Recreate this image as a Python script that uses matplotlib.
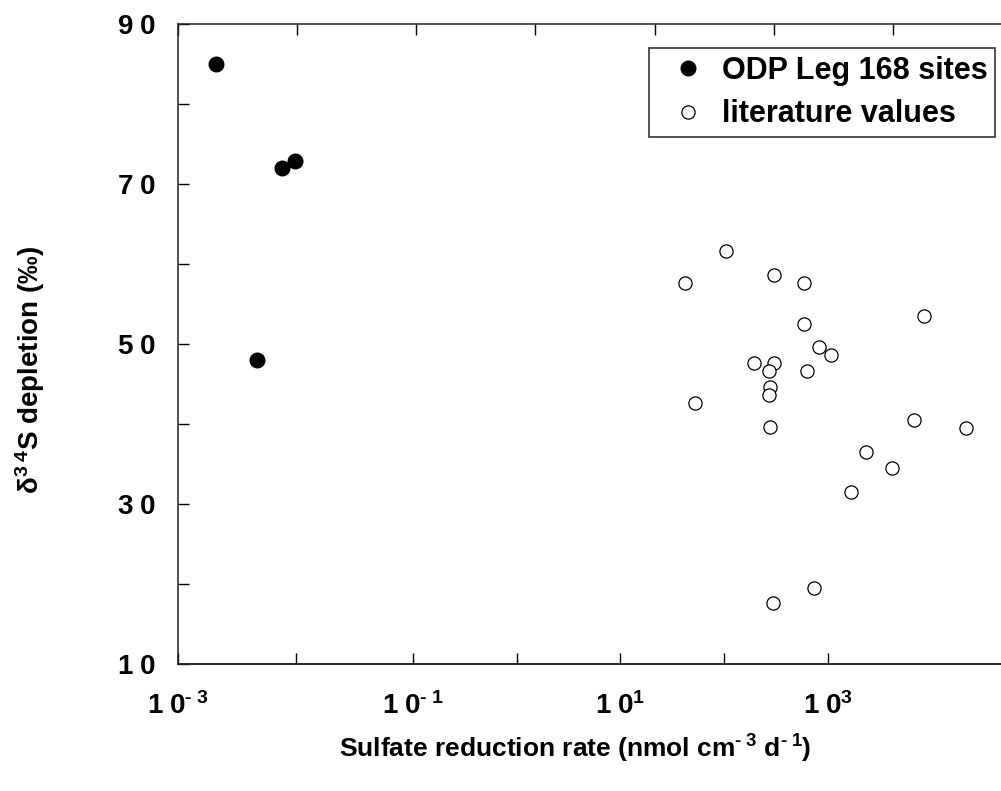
import numpy as np
import matplotlib.pyplot as plt
from matplotlib.ticker import FixedLocator, FixedFormatter, NullFormatter, NullLocator

plt.rcParams['font.family'] = ['Liberation Sans', 'DejaVu Sans']
plt.rcParams['font.weight'] = 'bold'
plt.rcParams['mathtext.fontset'] = 'custom'
plt.rcParams['mathtext.rm'] = 'Liberation Sans:bold'
plt.rcParams['mathtext.bf'] = 'Liberation Sans:bold'
plt.rcParams['mathtext.it'] = 'Liberation Sans:bold'
plt.rcParams['mathtext.default'] = 'bf'

# ODP Leg 168 sites (filled)
odp_rate = [0.0021, 0.0074, 0.0096, 0.0046]
odp_depl = [85.0, 72.0, 72.9, 48.0]

# literature values (open)
lit_rate = [40, 18, 100, 179, 1820, 179, 239, 300, 69, 100, 91, 189,
            94, 91, 22, 94, 1500, 4100, 593, 982, 444, 217, 98]
lit_depl = [61.6, 57.6, 58.6, 57.6, 53.5, 52.5, 49.6, 48.6, 47.6, 47.6, 46.6, 46.6,
            44.6, 43.6, 42.6, 39.6, 40.5, 39.5, 36.5, 34.5, 31.5, 19.5, 17.6]

y_major = [10, 30, 50, 70, 90]
y_major_labels = [r'$1\;0$', r'$3\;0$', r'$5\;0$', r'$7\;0$', r'$9\;0$']
y_minor = [20, 40, 60, 80]
x_decades = [1e-3, 1e-2, 1e-1, 1e0, 1e1, 1e2, 1e3]
x_labels = [r'$1\;0^{\text{-}\;3}$', '', r'$1\;0^{\text{-}\;1}$', '', r'$1\;0^{1}$', '', r'$1\;0^{3}$']

# the printed bottom axis is stretched relative to the plotting frame above -1 decade
LM = np.array([-6.0, -3.0, -1.026, 2.454, 8.0])
LS = np.array([-6.04, -3.0, -1.0, 3.0, 9.374])


def to_scan(x):
    with np.errstate(divide='ignore', invalid='ignore'):
        return 10 ** np.interp(np.log10(x), LM, LS)


def from_scan(x):
    with np.errstate(divide='ignore', invalid='ignore'):
        return 10 ** np.interp(np.log10(x), LS, LM)


fig = plt.figure(figsize=(10.01, 7.91), dpi=100)
ax = fig.add_axes([0.1778, 0.1606, 0.8222, 0.8091])

ax.plot(odp_rate, odp_depl, 'o', color='black', ms=10.5, mec='black',
        label='ODP Leg 168 sites', clip_on=False)
ax.plot(lit_rate, lit_depl, 'o', mfc='white', mec='black', ms=9.5, mew=0.9,
        label='literature values', clip_on=False)

ax.set_xscale('log')
ax.set_xlim(1e-3, 10 ** 3.908)
ax.set_ylim(10, 90)

for s in ['left', 'top', 'bottom']:
    ax.spines[s].set_linewidth(1.1)
    ax.spines[s].set_color('#222222')
ax.spines['right'].set_visible(False)

ax.yaxis.set_major_locator(FixedLocator(y_major))
ax.yaxis.set_major_formatter(FixedFormatter(y_major_labels))
ax.yaxis.set_minor_locator(FixedLocator(y_minor))
ax.tick_params(axis='y', which='both', direction='in', length=8, width=1.0,
               labelsize=20, pad=16)

# top ticks follow the plotting frame; bottom axis is drawn separately
ax.xaxis.set_major_locator(FixedLocator(x_decades))
ax.xaxis.set_minor_locator(NullLocator())
ax.tick_params(axis='x', which='both', top=True, bottom=False, labelbottom=False,
               direction='in', length=8, width=1.0)

sec = ax.secondary_xaxis('bottom', functions=(to_scan, from_scan))
sec.xaxis.set_major_locator(FixedLocator(x_decades))
sec.xaxis.set_major_formatter(FixedFormatter(x_labels))
sec.xaxis.set_minor_locator(NullLocator())
sec.xaxis.set_minor_formatter(NullFormatter())
sec.tick_params(axis='x', which='major', direction='in', length=8, width=1.0,
                labelsize=20, pad=20)
sec.spines['bottom'].set_linewidth(1.1)
sec.spines['bottom'].set_color('#222222')

fig.text(0.575, 0.053, r'Sulfate reduction rate (nmol cm$^{\text{-}\;3}$ d$^{\text{-}\;1}$)',
         ha='center', va='center', fontsize=19, fontweight='bold')
fig.text(0.03, 0.532, r'$\delta^{3\;4}$S depletion (‰)', rotation=90,
         ha='center', va='center', fontsize=20, fontweight='bold')

leg = ax.legend(loc='upper right', bbox_to_anchor=(0.9927, 0.9625),
                frameon=True, fancybox=False, borderaxespad=0,
                borderpad=0.25, handlelength=2.07, handletextpad=0.05,
                labelspacing=0.45, prop={'weight': 'bold', 'size': 22})
leg.get_frame().set_edgecolor('black')
leg.get_frame().set_linewidth(1.2)

fig.savefig('out.png', dpi=100)
